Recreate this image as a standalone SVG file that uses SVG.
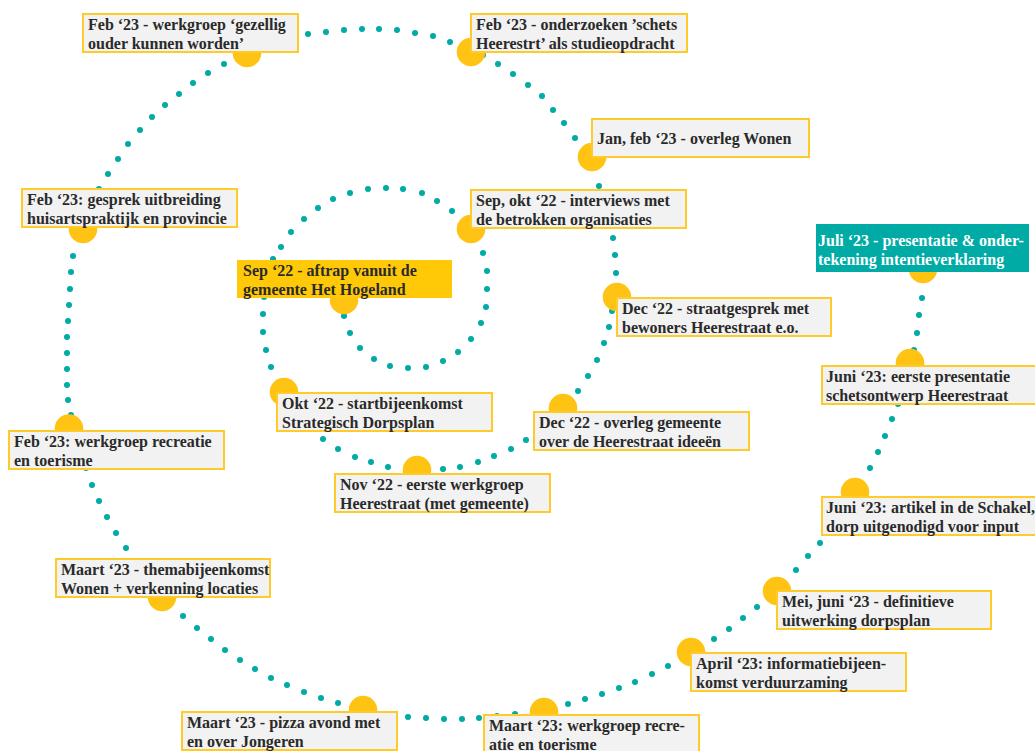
<svg xmlns="http://www.w3.org/2000/svg" width="1035" height="751" viewBox="0 0 1035 751">
<style>
.box{fill:#F2F2F2;stroke:#FFCB2B;stroke-width:2}
.dot{fill:#FFC314}
text{font-family:"Liberation Serif","Times New Roman",serif;font-weight:bold;font-size:16px;fill:#2A2A2A}
.w{fill:#FFFFFF}
</style>
<defs>
<marker id="d" markerUnits="userSpaceOnUse" viewBox="0 0 8 8" markerWidth="8" markerHeight="8" refX="4" refY="4"><circle cx="4" cy="4" r="3" fill="#00AAA5"/></marker>
</defs>
<rect width="1035" height="751" fill="#FFFFFF"/>
<g id="connectors">
<path fill="none" stroke="none" marker-start="url(#d)" marker-mid="url(#d)" marker-end="url(#d)" d="M344,300 L344,316 350,333 360,348 374,359 390,366 408,368 426,367 443,361 458,352 471,339 481,323 486,307 487,289 487,271 483,253 471,229 452,211 437,201 422,193 403,189 386,188 368,189 350,193 333,199 318,208 304,219 291,232 281,247 273,259 267,279 264,297 263,314 263,332 266,350 271,367 284,392 297,412 310,427 323,439 338,449 355,457 371,462 388,467 417,470 443,469 460,467 478,462 494,456 511,449 526,440 540,429 552,419 563,408 578,391 588,376 597,360 604,343 609,327 612,311 617,297 616,273 615,255 613,238 610,221 606,204 599,186 592,157 575,138 564,123 553,110 542,96 528,85 513,74 498,64 483,55 471,52 450,42 433,36 415,33 397,30 379,29 362,29 344,30 326,32 308,34 290,38 273,43 259,48 247,53 224,64 208,73 193,83 179,94 165,105 152,117 140,130 128,144 118,159 108,174 99,189 92,205 87,220 83,229 73,256 71,272 70,289 69,305 68,321 67,337 67,353 67,369 67,385 68,400 71,415 76,434 81,451 86,468 92,485 99,501 107,517 116,533 126,548 136,563 147,577 155,589 162,597 183,616 197,628 211,639 225,650 240,660 255,669 271,678 287,685 304,692 321,698 338,703 363,710 380,714 393,716 408,717 426,718 444,719 462,719 479,718 497,716 515,714 544,712 568,704 585,699 602,694 619,688 635,682 652,674 668,666 691,652 714,639 729,629 743,618 757,607 777,591 796,570 808,556 820,543 831,529 840,515 848,503 855,492 870,468 878,452 885,436 892,419 898,404 903,388 907,375 910,363 914,350 917,333 919,315 922,298 923,269"/>
</g>
<g id="n1"><circle class="dot" cx="344" cy="300" r="14.3"/><rect x="237" y="260" width="215" height="38" fill="#FFC907"/><text x="243" y="275.5">Sep ‘22 - aftrap vanuit de</text><text x="243" y="294.5">gemeente Het Hogeland</text></g>
<g id="n2"><circle class="dot" cx="471" cy="229" r="14.3"/><rect class="box" x="471" y="190" width="215" height="38"/><text x="476" y="206">Sep, okt ‘22 - interviews met</text><text x="476" y="225">de betrokken organisaties</text></g>
<g id="n3"><circle class="dot" cx="284" cy="392" r="14.3"/><rect class="box" x="277" y="393" width="215" height="38"/><text x="282" y="409">Okt ‘22 - startbijeenkomst</text><text x="282" y="428">Strategisch Dorpsplan</text></g>
<g id="n4"><circle class="dot" cx="417" cy="470" r="14.3"/><rect class="box" x="335" y="474" width="215" height="38"/><text x="340" y="490">Nov ‘22 - eerste werkgroep</text><text x="340" y="509">Heerestraat (met gemeente)</text></g>
<g id="n5"><circle class="dot" cx="617" cy="297" r="14.3"/><rect class="box" x="617" y="298" width="214" height="38"/><text x="622" y="314">Dec ‘22 - straatgesprek met</text><text x="622" y="333">bewoners Heerestraat e.o.</text></g>
<g id="n6"><circle class="dot" cx="563" cy="408" r="14.3"/><rect class="box" x="534" y="412" width="215" height="38"/><text x="539" y="428">Dec ‘22 - overleg gemeente</text><text x="539" y="447">over de Heerestraat ideeën</text></g>
<g id="n7"><circle class="dot" cx="592" cy="157" r="14.3"/><rect class="box" x="592" y="119" width="217" height="38"/><text x="597" y="143.5">Jan, feb ‘23 - overleg Wonen</text></g>
<g id="n8"><circle class="dot" cx="471" cy="52" r="14.3"/><rect class="box" x="471" y="14" width="216" height="38"/><text x="476" y="30">Feb ‘23 - onderzoeken ’schets</text><text x="476" y="49">Heerestrt’ als studieopdracht</text></g>
<g id="n9"><circle class="dot" cx="247" cy="53" r="14.3"/><rect class="box" x="83" y="14" width="215" height="38"/><text x="88" y="30">Feb ‘23 - werkgroep ‘gezellig</text><text x="88" y="49">ouder kunnen worden’</text></g>
<g id="n10"><circle class="dot" cx="83" cy="229" r="14.3"/><rect class="box" x="22" y="189" width="215" height="38"/><text x="27" y="205">Feb ‘23: gesprek uitbreiding</text><text x="27" y="224">huisartspraktijk en provincie</text></g>
<g id="n11"><circle class="dot" cx="69" cy="428.5" r="14.3"/><rect class="box" x="9" y="431" width="215" height="38"/><text x="14" y="447">Feb ‘23: werkgroep recreatie</text><text x="14" y="466">en toerisme</text></g>
<g id="n12"><circle class="dot" cx="162" cy="597" r="14.3"/><rect class="box" x="56" y="559" width="214" height="38"/><text x="61" y="575">Maart ‘23 - themabijeenkomst</text><text x="61" y="594">Wonen + verkenning locaties</text></g>
<g id="n13"><circle class="dot" cx="363" cy="710" r="14.3"/><rect class="box" x="182" y="712" width="215" height="38"/><text x="187" y="728">Maart ‘23 - pizza avond met</text><text x="187" y="747">en over Jongeren</text></g>
<g id="n14"><circle class="dot" cx="544" cy="712" r="14.3"/><rect class="box" x="484" y="715" width="215" height="38"/><text x="489" y="731">Maart ‘23: werkgroep recre-</text><text x="489" y="750">atie en toerisme</text></g>
<g id="n15"><circle class="dot" cx="691" cy="652" r="14.3"/><rect class="box" x="691" y="653" width="215" height="38"/><text x="696" y="669">April ‘23: informatiebijeen-</text><text x="696" y="688">komst verduurzaming</text></g>
<g id="n16"><circle class="dot" cx="777" cy="591" r="14.3"/><rect class="box" x="777" y="591" width="214" height="38"/><text x="782" y="607">Mei, juni ‘23 - definitieve</text><text x="782" y="626">uitwerking dorpsplan</text></g>
<g id="n17"><circle class="dot" cx="855" cy="492" r="14.3"/><rect class="box" x="822" y="497" width="215" height="38"/><text x="826" y="513">Juni ‘23: artikel in de Schakel,</text><text x="826" y="532">dorp uitgenodigd voor input</text></g>
<g id="n18"><circle class="dot" cx="910" cy="363" r="14.3"/><rect class="box" x="822" y="366" width="215" height="38"/><text x="826" y="382">Juni ‘23: eerste presentatie</text><text x="826" y="401">schetsontwerp Heerestraat</text></g>
<g id="n19"><circle class="dot" cx="923" cy="269" r="14.3"/><rect x="816" y="224" width="213" height="48" fill="#00ABA6"/><text class="w" x="818" y="245.5">Juli ‘23 - presentatie &amp; onder-</text><text class="w" x="818" y="264.5">tekening intentieverklaring</text></g>
</svg>
